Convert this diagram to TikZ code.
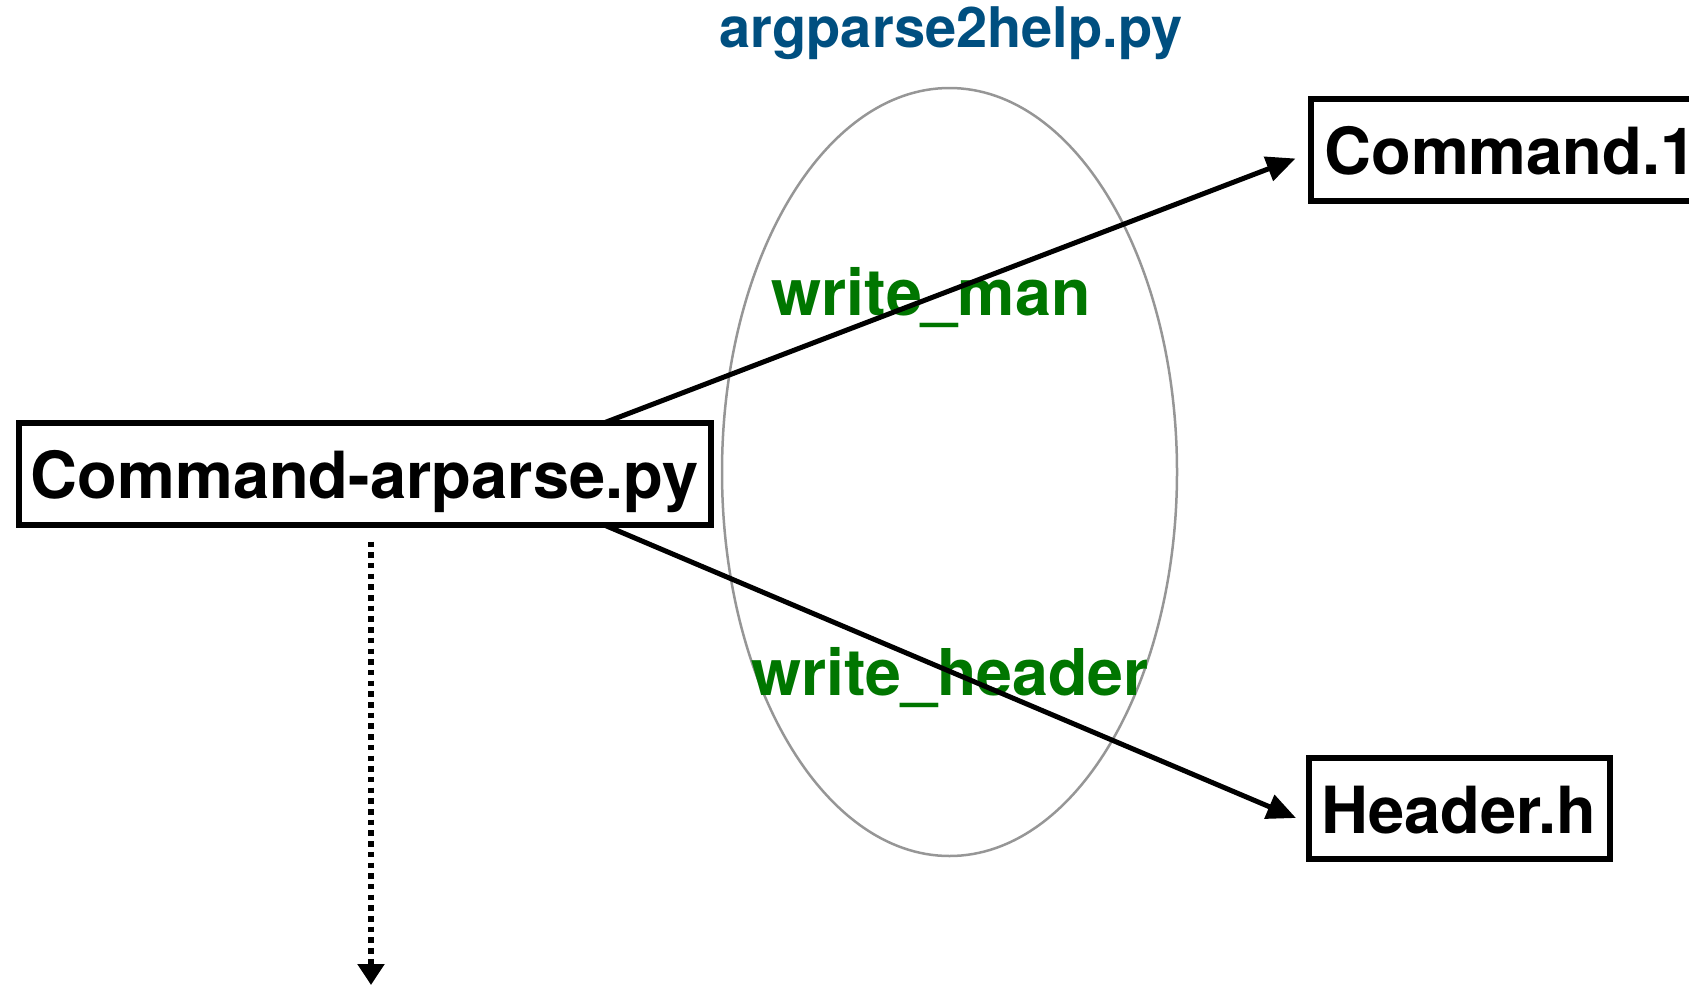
\documentclass[tikz,border=0pt]{standalone}
\usepackage{fontspec}
\setmainfont{TeX Gyre Heros}
\usetikzlibrary{arrows.meta}
\definecolor{titleblue}{RGB}{0,79,128}
\definecolor{fngreen}{RGB}{0,118,0}
\definecolor{ellgray}{RGB}{150,150,150}
\tikzset{
  filebox/.style={draw, line width=6pt, outer sep=0pt, inner sep=0pt,
    text height=50pt, text depth=0pt,
    font=\fontsize{65}{78}\selectfont\bfseries},
  fnlabel/.style={text=fngreen, anchor=base, inner sep=0pt,
    font=\fontsize{64.5}{77}\selectfont\bfseries},
  arr/.style={line width=5pt, -{Triangle[length=29pt,width=25pt]}},
  dotarr/.style={line width=6pt, dash pattern=on 5.5pt off 5.2pt,
    -{Triangle[length=21pt,width=26pt]}}
}
\begin{document}
\begin{tikzpicture}[x=1pt,y=-1pt]
\useasboundingbox (0,0) rectangle (1689,985);
\clip (0,0) rectangle (1689,985);
% ellipse
\draw[ellgray, line width=2.5pt] (949.5,472) ellipse [x radius=227.5, y radius=384];
% title
\node[text=titleblue, anchor=base, inner sep=0pt,
  font=\fontsize{56}{67}\selectfont\bfseries] (title) at (951,47) {argparse2help.py};
% boxes
\node[filebox, minimum width=692pt, minimum height=102pt] (src) at (364.5,473.5) {Command-arparse.py};
\node[filebox, anchor=west, minimum height=102pt, inner xsep=14pt] (man) at (1310.5,149.5) {Command.1};
\node[filebox, minimum width=301pt, minimum height=101pt] (hdr) at (1459,808) {Header.h};
% labels
\node[fnlabel] (wman) at (931,315) {write\_man};
\node[fnlabel] (whdr) at (950,695) {write\_header};
% connectors
\draw[arr] ([xshift=240.5pt]src.north) -- ([xshift=-15pt,yshift=-9pt]man.west);
\draw[arr] ([xshift=238.5pt]src.south) -- ([xshift=-12.5pt,yshift=-10pt]hdr.west);
\coordinate (down) at (371,985);
\draw[dotarr] ([xshift=6.5pt,yshift=-17pt]src.south) -- (down);
\end{tikzpicture}
\end{document}
